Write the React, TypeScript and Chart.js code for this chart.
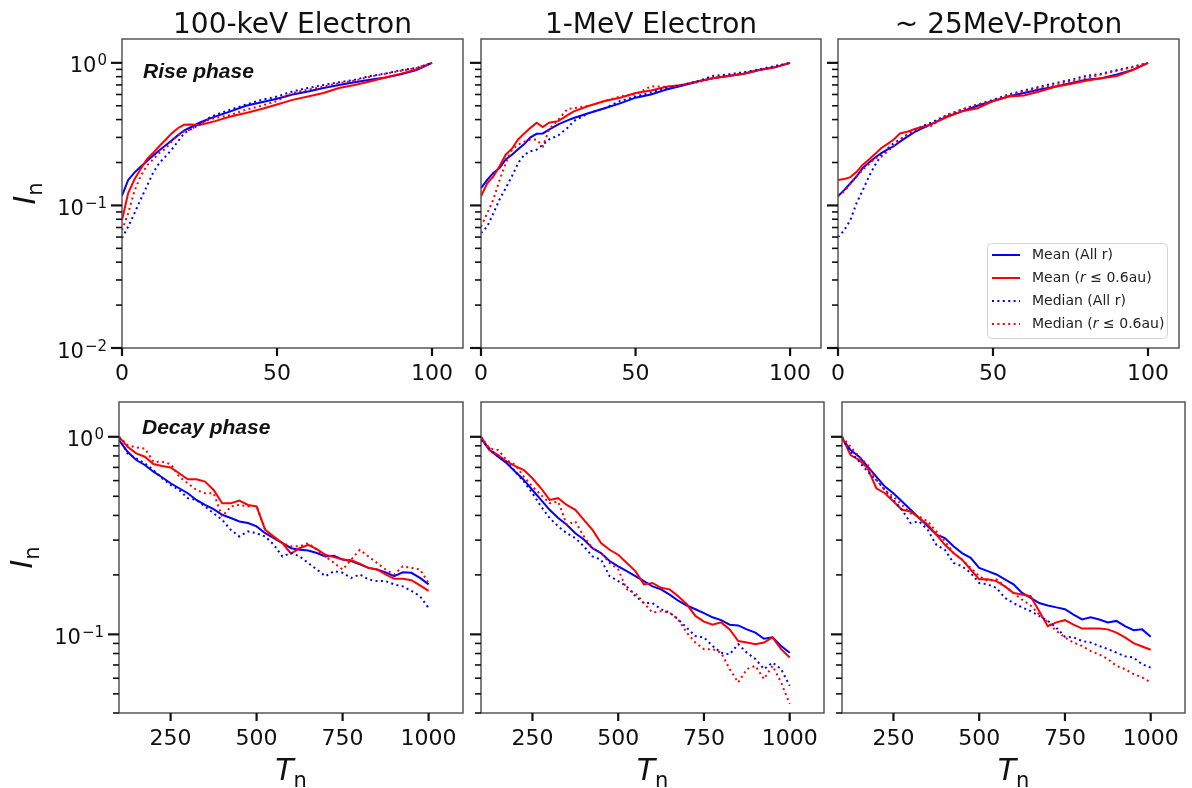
import React, { useEffect, useRef } from 'react';
import { Chart, registerables } from 'chart.js';

Chart.register(...registerables);

const FONT = "'DejaVu Sans', 'Noto Sans', sans-serif";
const NOTE_FONT = "'Liberation Sans', Arial, sans-serif";

// ---------------- data ----------------
const RISE_T = [0, 2, 4, 6, 8, 10, 12, 14, 16, 18, 20, 22, 25, 28, 30, 35, 40, 45, 50, 55, 60, 65, 70, 75, 80, 85, 90, 95, 100];
const DECAY_T = [100, 125, 150, 175, 200, 225, 250, 275, 300, 325, 350, 375, 400, 425, 450, 475, 500, 525, 550, 575, 600, 625, 650, 675, 700, 725, 750, 775, 800, 825, 850, 875, 900, 925, 950, 975, 1000];

// 100-keV electron, rise phase
const KEV_RISE_MEAN_ALL = [0.117, 0.151, 0.170, 0.187, 0.204, 0.223, 0.243, 0.263, 0.285, 0.31, 0.335, 0.352, 0.38, 0.405, 0.42, 0.457, 0.50, 0.53, 0.56, 0.60, 0.63, 0.667, 0.70, 0.73, 0.76, 0.79, 0.83, 0.89, 1.0];
const KEV_RISE_MEAN_IN = [0.079, 0.122, 0.152, 0.180, 0.21, 0.233, 0.26, 0.288, 0.32, 0.348, 0.368, 0.37, 0.367, 0.38, 0.39, 0.42, 0.445, 0.475, 0.51, 0.55, 0.58, 0.615, 0.667, 0.70, 0.74, 0.79, 0.84, 0.90, 1.0];
const KEV_RISE_MED_ALL = [0.059, 0.071, 0.088, 0.11, 0.136, 0.169, 0.198, 0.22, 0.246, 0.28, 0.32, 0.34, 0.37, 0.41, 0.43, 0.47, 0.51, 0.55, 0.58, 0.63, 0.667, 0.70, 0.73, 0.76, 0.81, 0.84, 0.89, 0.92, 1.0];
const KEV_RISE_MED_IN = [0.067, 0.088, 0.126, 0.16, 0.19, 0.21, 0.233, 0.25, 0.28, 0.31, 0.33, 0.34, 0.37, 0.40, 0.41, 0.43, 0.47, 0.50, 0.54, 0.615, 0.65, 0.68, 0.72, 0.75, 0.80, 0.84, 0.88, 0.92, 1.0];

// 1-MeV electron, rise phase
const MEV_RISE_MEAN_ALL = [0.132, 0.151, 0.169, 0.183, 0.21, 0.227, 0.248, 0.27, 0.30, 0.318, 0.32, 0.34, 0.37, 0.395, 0.41, 0.445, 0.48, 0.52, 0.57, 0.60, 0.65, 0.69, 0.74, 0.78, 0.81, 0.84, 0.89, 0.93, 1.0];
const MEV_RISE_MEAN_IN = [0.116, 0.143, 0.16, 0.188, 0.227, 0.25, 0.29, 0.32, 0.35, 0.38, 0.355, 0.38, 0.39, 0.43, 0.457, 0.50, 0.54, 0.57, 0.615, 0.64, 0.68, 0.70, 0.74, 0.78, 0.81, 0.84, 0.89, 0.93, 1.0];
const MEV_RISE_MED_ALL = [0.064, 0.071, 0.088, 0.11, 0.132, 0.16, 0.198, 0.227, 0.24, 0.246, 0.267, 0.29, 0.31, 0.35, 0.39, 0.445, 0.48, 0.54, 0.58, 0.62, 0.667, 0.70, 0.74, 0.81, 0.83, 0.86, 0.90, 0.95, 1.0];
const MEV_RISE_MED_IN = [0.071, 0.088, 0.11, 0.15, 0.198, 0.246, 0.267, 0.28, 0.29, 0.29, 0.26, 0.34, 0.40, 0.475, 0.48, 0.50, 0.54, 0.58, 0.60, 0.685, 0.68, 0.70, 0.73, 0.78, 0.81, 0.84, 0.89, 0.93, 1.0];

// ~25 MeV proton, rise phase
const PRO_RISE_MEAN_ALL = [0.116, 0.128, 0.143, 0.16, 0.183, 0.20, 0.217, 0.233, 0.247, 0.26, 0.28, 0.30, 0.33, 0.355, 0.37, 0.42, 0.457, 0.50, 0.54, 0.58, 0.615, 0.65, 0.68, 0.72, 0.76, 0.78, 0.83, 0.89, 1.0];
const PRO_RISE_MEAN_IN = [0.151, 0.153, 0.158, 0.172, 0.193, 0.21, 0.23, 0.253, 0.27, 0.29, 0.32, 0.327, 0.345, 0.36, 0.37, 0.415, 0.457, 0.48, 0.54, 0.58, 0.59, 0.63, 0.68, 0.71, 0.75, 0.78, 0.81, 0.89, 1.0];
const PRO_RISE_MED_ALL = [0.060, 0.067, 0.079, 0.104, 0.128, 0.16, 0.193, 0.225, 0.25, 0.274, 0.29, 0.31, 0.34, 0.365, 0.38, 0.43, 0.47, 0.51, 0.55, 0.60, 0.64, 0.68, 0.72, 0.76, 0.81, 0.84, 0.89, 0.94, 1.0];
const PRO_RISE_MED_IN = [0.116, 0.125, 0.142, 0.16, 0.178, 0.195, 0.215, 0.22, 0.24, 0.26, 0.29, 0.31, 0.34, 0.355, 0.36, 0.43, 0.47, 0.51, 0.54, 0.59, 0.63, 0.667, 0.70, 0.74, 0.78, 0.83, 0.88, 0.93, 1.0];

// 100-keV electron, decay phase
const KEV_DECAY_MEAN_ALL = [0.962, 0.840, 0.763, 0.720, 0.666, 0.624, 0.582, 0.549, 0.518, 0.479, 0.452, 0.430, 0.403, 0.388, 0.373, 0.366, 0.352, 0.325, 0.307, 0.290, 0.273, 0.268, 0.266, 0.258, 0.248, 0.250, 0.239, 0.235, 0.226, 0.217, 0.213, 0.206, 0.197, 0.206, 0.205, 0.193, 0.179];
const KEV_DECAY_MEAN_IN = [1.0, 0.890, 0.824, 0.793, 0.728, 0.711, 0.700, 0.654, 0.610, 0.610, 0.593, 0.538, 0.461, 0.461, 0.476, 0.452, 0.444, 0.338, 0.313, 0.290, 0.256, 0.273, 0.284, 0.270, 0.253, 0.246, 0.239, 0.237, 0.228, 0.217, 0.213, 0.201, 0.191, 0.191, 0.188, 0.177, 0.166];
const KEV_DECAY_MED_ALL = [0.98, 0.824, 0.778, 0.734, 0.679, 0.617, 0.570, 0.538, 0.489, 0.479, 0.444, 0.410, 0.380, 0.338, 0.313, 0.332, 0.325, 0.313, 0.284, 0.248, 0.258, 0.248, 0.230, 0.213, 0.197, 0.209, 0.205, 0.193, 0.201, 0.190, 0.186, 0.186, 0.179, 0.175, 0.166, 0.156, 0.136];
const KEV_DECAY_MED_IN = [1.0, 0.908, 0.884, 0.873, 0.748, 0.748, 0.728, 0.628, 0.582, 0.538, 0.518, 0.518, 0.395, 0.444, 0.452, 0.444, 0.447, 0.338, 0.307, 0.290, 0.279, 0.279, 0.290, 0.268, 0.248, 0.230, 0.213, 0.239, 0.268, 0.248, 0.230, 0.213, 0.201, 0.221, 0.217, 0.213, 0.182];

// 1-MeV electron, decay phase
const MEV_DECAY_MEAN_ALL = [0.981, 0.856, 0.793, 0.734, 0.666, 0.605, 0.538, 0.479, 0.427, 0.388, 0.359, 0.325, 0.302, 0.273, 0.258, 0.235, 0.221, 0.209, 0.197, 0.186, 0.175, 0.169, 0.159, 0.148, 0.140, 0.134, 0.128, 0.122, 0.118, 0.112, 0.111, 0.106, 0.102, 0.095, 0.0965, 0.0874, 0.0808];
const MEV_DECAY_MEAN_IN = [1.0, 0.856, 0.808, 0.748, 0.711, 0.679, 0.617, 0.549, 0.479, 0.489, 0.452, 0.427, 0.380, 0.338, 0.290, 0.268, 0.253, 0.230, 0.209, 0.179, 0.182, 0.172, 0.169, 0.156, 0.142, 0.124, 0.116, 0.112, 0.115, 0.106, 0.0926, 0.0909, 0.0892, 0.0909, 0.0965, 0.0842, 0.0763];
const MEV_DECAY_MED_ALL = [0.962, 0.873, 0.793, 0.748, 0.666, 0.593, 0.518, 0.444, 0.388, 0.352, 0.325, 0.307, 0.279, 0.248, 0.239, 0.197, 0.186, 0.175, 0.156, 0.144, 0.144, 0.134, 0.129, 0.119, 0.108, 0.098, 0.0965, 0.0874, 0.0808, 0.0792, 0.0892, 0.0808, 0.075, 0.0667, 0.0720, 0.0667, 0.0549];
const MEV_DECAY_MED_IN = [1.0, 0.873, 0.856, 0.763, 0.720, 0.628, 0.560, 0.508, 0.461, 0.470, 0.359, 0.373, 0.313, 0.273, 0.258, 0.230, 0.213, 0.169, 0.162, 0.144, 0.129, 0.131, 0.129, 0.119, 0.102, 0.0909, 0.0842, 0.0842, 0.0808, 0.0667, 0.0571, 0.0667, 0.0693, 0.0594, 0.0693, 0.0571, 0.0445];

// ~25 MeV proton, decay phase
const PRO_DECAY_MEAN_ALL = [0.981, 0.856, 0.793, 0.706, 0.628, 0.560, 0.518, 0.470, 0.427, 0.388, 0.352, 0.320, 0.307, 0.279, 0.258, 0.244, 0.217, 0.209, 0.201, 0.190, 0.179, 0.162, 0.153, 0.144, 0.140, 0.137, 0.134, 0.126, 0.119, 0.122, 0.119, 0.115, 0.117, 0.110, 0.105, 0.106, 0.0973];
const PRO_DECAY_MEAN_IN = [1.0, 0.808, 0.763, 0.692, 0.549, 0.518, 0.470, 0.427, 0.419, 0.388, 0.359, 0.320, 0.284, 0.258, 0.239, 0.213, 0.190, 0.190, 0.186, 0.175, 0.162, 0.159, 0.156, 0.131, 0.110, 0.115, 0.118, 0.112, 0.107, 0.107, 0.107, 0.106, 0.102, 0.0965, 0.0903, 0.0868, 0.0836];
const PRO_DECAY_MED_ALL = [0.981, 0.840, 0.748, 0.666, 0.605, 0.538, 0.479, 0.427, 0.366, 0.373, 0.338, 0.284, 0.268, 0.230, 0.221, 0.205, 0.182, 0.179, 0.172, 0.153, 0.144, 0.137, 0.131, 0.124, 0.117, 0.108, 0.0973, 0.0965, 0.0926, 0.0909, 0.0874, 0.0842, 0.0808, 0.0775, 0.0763, 0.0706, 0.0679];
const PRO_DECAY_MED_IN = [1.0, 0.890, 0.793, 0.720, 0.605, 0.538, 0.498, 0.452, 0.410, 0.395, 0.373, 0.332, 0.296, 0.258, 0.239, 0.217, 0.197, 0.186, 0.190, 0.175, 0.162, 0.150, 0.140, 0.126, 0.115, 0.104, 0.0965, 0.0909, 0.0874, 0.0823, 0.0792, 0.075, 0.0693, 0.0667, 0.0630, 0.0606, 0.0571];

const SERIES_LABELS = ['Mean (All r)', 'Mean (r ≤ 0.6au)', 'Median (All r)', 'Median (r ≤ 0.6au)'];

const RISE_X_TICKS = [0, 50, 100];
const DECAY_X_TICKS = [250, 500, 750, 1000];
const RISE_Y_TICKS = [0.01, 0.02, 0.03, 0.04, 0.05, 0.06, 0.07, 0.08, 0.09, 0.1, 0.2, 0.3, 0.4, 0.5, 0.6, 0.7, 0.8, 0.9, 1];
const DECAY_Y_TICKS = [0.04, 0.05, 0.06, 0.07, 0.08, 0.09, 0.1, 0.2, 0.3, 0.4, 0.5, 0.6, 0.7, 0.8, 0.9, 1];
const MAJOR_Y_VALUES = [0.01, 0.1, 1];
const MAJOR_Y_BASE = '10';
const MAJOR_Y_EXPONENTS = ['−2', '−1', '0'];

// ---------------- styles / layout ----------------
const SERIES_COLORS = ['#0000ff', '#ff0000', '#0000ff', '#ff0000'];
const SERIES_DOTTED = [false, false, true, true];

const ROWS = [
  { xs: RISE_T, xMin: 0, xMax: 110, yMin: 0.01, yMax: 1.47, xTicks: RISE_X_TICKS, yTicks: RISE_Y_TICKS, yTitleX: 24 },
  { xs: DECAY_T, xMin: 100, xMax: 1100, yMin: 0.04, yMax: 1.5, xTicks: DECAY_X_TICKS, yTicks: DECAY_Y_TICKS, yTitleX: 21 },
];

const PANELS = [
  { id: 'p1', row: 0, col: 0, box: [122, 39, 463, 348], title: '100-keV Electron', note: { text: 'Rise phase', dx: 21, dy: 39 }, legend: false,
    series: [KEV_RISE_MEAN_ALL, KEV_RISE_MEAN_IN, KEV_RISE_MED_ALL, KEV_RISE_MED_IN] },
  { id: 'p2', row: 0, col: 1, box: [481, 39, 821, 348], title: '1-MeV Electron', note: null, legend: false,
    series: [MEV_RISE_MEAN_ALL, MEV_RISE_MEAN_IN, MEV_RISE_MED_ALL, MEV_RISE_MED_IN] },
  { id: 'p3', row: 0, col: 2, box: [838, 39, 1179, 348], title: '~ 25MeV-Proton', note: null, legend: true,
    series: [PRO_RISE_MEAN_ALL, PRO_RISE_MEAN_IN, PRO_RISE_MED_ALL, PRO_RISE_MED_IN] },
  { id: 'p4', row: 1, col: 0, box: [119, 402, 463, 713], title: '', note: { text: 'Decay phase', dx: 23, dy: 32 }, legend: false,
    series: [KEV_DECAY_MEAN_ALL, KEV_DECAY_MEAN_IN, KEV_DECAY_MED_ALL, KEV_DECAY_MED_IN] },
  { id: 'p5', row: 1, col: 1, box: [481, 402, 824, 713], title: '', note: null, legend: false,
    series: [MEV_DECAY_MEAN_ALL, MEV_DECAY_MEAN_IN, MEV_DECAY_MED_ALL, MEV_DECAY_MED_IN] },
  { id: 'p6', row: 1, col: 2, box: [842, 402, 1185, 713], title: '', note: null, legend: false,
    series: [PRO_DECAY_MEAN_ALL, PRO_DECAY_MEAN_IN, PRO_DECAY_MED_ALL, PRO_DECAY_MED_IN] },
];

const majorIndex = (v: number) => MAJOR_Y_VALUES.findIndex((m) => Math.abs(m - v) < m * 1e-6);

function drawSubscripted(ctx: CanvasRenderingContext2D, main: string, sub: string, cx: number, baseline: number) {
  ctx.font = `italic 30px ${FONT}`;
  const wMain = ctx.measureText(main).width;
  ctx.font = `21px ${FONT}`;
  const wSub = ctx.measureText(sub).width;
  const x0 = cx - (wMain + wSub) / 2;
  ctx.textAlign = 'left';
  ctx.textBaseline = 'alphabetic';
  ctx.font = `italic 30px ${FONT}`;
  ctx.fillText(main, x0, baseline);
  ctx.font = `21px ${FONT}`;
  ctx.fillText(sub, x0 + wMain, baseline + 7);
}

function decorPlugin(p: any, canvasLeft: number) {
  const rowCfg = ROWS[p.row];
  return {
    id: 'decor_' + p.id,
    afterDatasetsDraw(chart: any) {
      const { ctx, chartArea: a } = chart;
      const sx = chart.scales.x;
      const sy = chart.scales.y;
      ctx.save();
      // frame
      ctx.strokeStyle = '#4a4a4a';
      ctx.lineWidth = 1.4;
      ctx.strokeRect(a.left, a.top, a.right - a.left, a.bottom - a.top);
      // y ticks (+ labels on first column)
      for (const t of sy.ticks) {
        const y = sy.getPixelForValue(t.value);
        const mi = majorIndex(t.value);
        const major = mi >= 0;
        ctx.strokeStyle = '#111';
        ctx.lineWidth = major ? 2.2 : 1.6;
        const len = major ? 11 : 6;
        ctx.beginPath();
        ctx.moveTo(a.left - len, y);
        ctx.lineTo(a.left, y);
        ctx.stroke();
        if (major && p.col === 0) {
          ctx.fillStyle = '#111';
          ctx.textBaseline = 'alphabetic';
          ctx.textAlign = 'right';
          const xr = a.left - 15;
          ctx.font = `15px ${FONT}`;
          const exp = MAJOR_Y_EXPONENTS[mi];
          const we = ctx.measureText(exp).width;
          ctx.fillText(exp, xr, y + 2.5);
          ctx.font = `21px ${FONT}`;
          ctx.fillText(MAJOR_Y_BASE, xr - we - 1, y + 9.5);
        }
      }
      for (const t of sx.ticks) {
        const x = sx.getPixelForValue(t.value);
        ctx.strokeStyle = '#111';
        ctx.lineWidth = 2.2;
        ctx.beginPath();
        ctx.moveTo(x, a.bottom);
        ctx.lineTo(x, a.bottom + 8);
        ctx.stroke();
      }
      ctx.fillStyle = '#111';
      // title
      if (p.title) {
        ctx.font = `28px ${FONT}`;
        ctx.textAlign = 'center';
        ctx.textBaseline = 'alphabetic';
        ctx.fillText(p.title, (a.left + a.right) / 2, a.top - 6);
      }
      // phase annotation
      if (p.note) {
        ctx.font = `italic bold 21px ${NOTE_FONT}`;
        ctx.textAlign = 'left';
        ctx.textBaseline = 'alphabetic';
        ctx.fillText(p.note.text, a.left + p.note.dx, a.top + p.note.dy);
      }
      // y axis title I_n
      if (p.col === 0) {
        ctx.save();
        ctx.translate(rowCfg.yTitleX - canvasLeft, (a.top + a.bottom) / 2);
        ctx.rotate(-Math.PI / 2);
        drawSubscripted(ctx, 'I', 'n', 0, 11);
        ctx.restore();
      }
      // x axis title T_n
      if (p.row === 1) {
        drawSubscripted(ctx, 'T', 'n', (a.left + a.right) / 2, a.bottom + 67);
      }
      // legend
      if (p.legend) {
        const bw = 180;
        const bh = 95;
        const bx = a.right - 12 - bw;
        const by = a.bottom - 10 - bh;
        ctx.fillStyle = 'rgba(255,255,255,0.85)';
        ctx.strokeStyle = '#d4d4d4';
        ctx.lineWidth = 1;
        ctx.beginPath();
        (ctx as any).roundRect(bx + 0.5, by + 0.5, bw, bh, 4);
        ctx.fill();
        ctx.stroke();
        chart.data.datasets.forEach((ds: any, i: number) => {
          const ry = by + 12 + i * 23;
          ctx.strokeStyle = ds.borderColor;
          ctx.lineWidth = 2;
          ctx.setLineDash(ds.borderDash || []);
          ctx.beginPath();
          ctx.moveTo(bx + 5, ry);
          ctx.lineTo(bx + 33, ry);
          ctx.stroke();
          ctx.setLineDash([]);
          ctx.fillStyle = '#222';
          ctx.textAlign = 'left';
          ctx.textBaseline = 'middle';
          const label: string = ds.label;
          const idx = label.indexOf('(r ');
          const parts: [string, boolean][] = idx >= 0
            ? [[label.slice(0, idx + 1), false], ['r', true], [label.slice(idx + 2), false]]
            : [[label, false]];
          let tx = bx + 45;
          for (const [txt, it] of parts) {
            ctx.font = `${it ? 'italic ' : ''}14px ${FONT}`;
            ctx.fillText(txt, tx, ry);
            tx += ctx.measureText(txt).width;
          }
        });
      }
      ctx.restore();
    },
  };
}

function Panel({ p }: { p: any }) {
  const ref = useRef<HTMLCanvasElement | null>(null);
  const rowCfg = ROWS[p.row];
  const [bl, bt, br, bb] = p.box;
  const padL = p.col === 0 ? bl : 40;
  const padT = p.row === 0 ? bt : 40;
  const padR = 24;
  const padB = p.row === 0 ? 50 : 788 - bb;
  const W = padL + (br - bl) + padR;
  const H = padT + (bb - bt) + padB;
  const left = bl - padL;
  const top = bt - padT;

  useEffect(() => {
    if (!ref.current) return;
    const chart = new Chart(ref.current, {
      type: 'line',
      data: {
        datasets: p.series.map((ys: number[], i: number) => ({
          label: SERIES_LABELS[i],
          data: rowCfg.xs.map((x: number, j: number) => ({ x, y: ys[j] })),
          borderColor: SERIES_COLORS[i],
          backgroundColor: SERIES_COLORS[i],
          borderWidth: 2,
          borderDash: SERIES_DOTTED[i] ? [2, 3.4] : [],
          pointRadius: 0,
          tension: 0,
          fill: false,
          order: 3 - i,
        })),
      },
      options: {
        responsive: false,
        animation: false,
        devicePixelRatio: 1,
        events: [],
        layout: { padding: { left: 0, top: padT, right: padR, bottom: 0 } },
        plugins: {
          legend: { display: false },
          tooltip: { enabled: false },
          title: { display: false },
        },
        scales: {
          x: {
            type: 'linear',
            position: 'bottom',
            min: rowCfg.xMin,
            max: rowCfg.xMax,
            grid: { display: false, drawTicks: false, tickLength: 0 },
            border: { display: false },
            ticks: {
              autoSkip: false,
              maxRotation: 0,
              padding: 13,
              color: '#111',
              font: { family: FONT, size: 22 },
              callback: (v: any) => String(v),
            },
            afterBuildTicks: (s: any) => {
              s.ticks = rowCfg.xTicks.map((v: number) => ({ value: v }));
            },
            afterFit: (s: any) => {
              s.height = padB;
            },
          },
          y: {
            type: 'logarithmic',
            position: 'left',
            min: rowCfg.yMin,
            max: rowCfg.yMax,
            grid: { display: false, drawTicks: false, tickLength: 0 },
            border: { display: false },
            ticks: { display: false, autoSkip: false },
            afterBuildTicks: (s: any) => {
              s.ticks = rowCfg.yTicks.map((v: number) => ({ value: v, major: majorIndex(v) >= 0 }));
            },
            afterFit: (s: any) => {
              s.width = padL;
            },
          },
        },
      } as any,
      plugins: [decorPlugin(p, left)],
    });
    return () => chart.destroy();
  }, []);

  return (
    <canvas
      ref={ref}
      width={W}
      height={H}
      style={{ position: 'absolute', left, top, width: W, height: H }}
    />
  );
}

export default function App() {
  return (
    <div
      style={{
        position: 'absolute',
        left: 0,
        top: 0,
        width: 1192,
        height: 788,
        overflow: 'hidden',
        background: '#fff',
      }}
    >
      {PANELS.map((p) => (
        <Panel key={p.id} p={p} />
      ))}
    </div>
  );
}
